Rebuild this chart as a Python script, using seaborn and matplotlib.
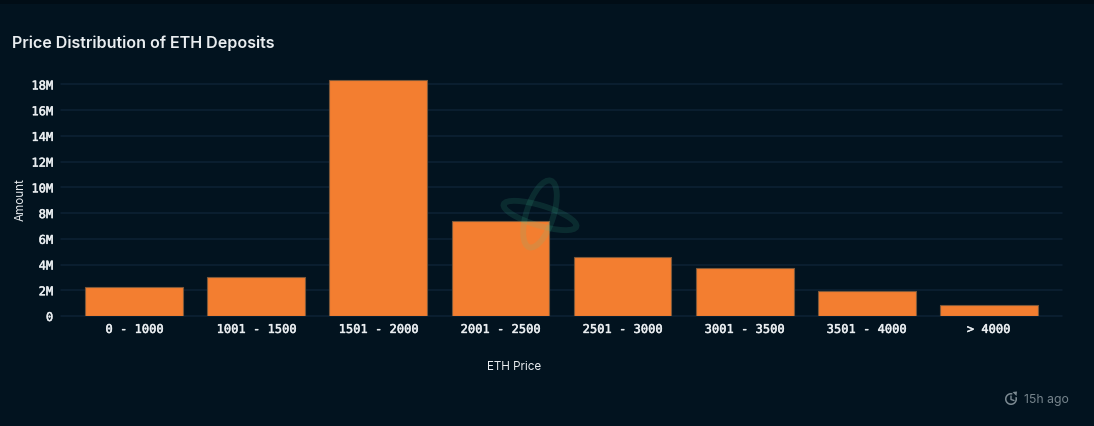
"""
Price distribution of ETH deposits, dark dashboard style bar chart.
"""

import matplotlib.patheffects as pe
import matplotlib.pyplot as plt
import pandas as pd
import seaborn as sns
from matplotlib.patches import Arc, Ellipse, Polygon, Rectangle

# ---------------------------------------------------------------------------
# Data
# ---------------------------------------------------------------------------
price_bins = ["0 - 1000", "1001 - 1500", "1501 - 2000", "2001 - 2500",
              "2501 - 3000", "3001 - 3500", "3501 - 4000", "> 4000"]
amounts = [2.25e6, 3.03e6, 18.35e6, 7.42e6, 4.55e6, 3.77e6, 1.98e6, 0.82e6]
y_ticks = [0, 2e6, 4e6, 6e6, 8e6, 10e6, 12e6, 14e6, 16e6, 18e6]
y_tick_labels = ["0", "2M", "4M", "6M", "8M", "10M", "12M", "14M", "16M", "18M"]

# ---------------------------------------------------------------------------
# Style
# ---------------------------------------------------------------------------
W, H = 1094, 427
BG = "#02131f"
ORANGE = "#f37e30"
GRID = "#0d2235"
TEXT = "#e9edf0"

sns.set_theme(style="dark")
plt.rcParams["font.family"] = ["Inter", "DejaVu Sans"]

df = pd.DataFrame({"bin": price_bins, "amount": amounts})

fig = plt.figure(figsize=(W / 100, H / 100), dpi=100, facecolor=BG)
# plot box in pixels: x 61.5-1061.5, y 78-317
ax = fig.add_axes([61.5 / W, (H - 317) / H, 1000 / W, 239 / H], facecolor=BG)

sns.barplot(data=df, x="bin", y="amount", color=ORANGE, saturation=1,
            width=0.803, edgecolor="#7d5738", linewidth=0.8, zorder=3, ax=ax)

ax.set_xlim(-0.598, 7.598)
ax.set_ylim(0, 18.58e6)
ax.set_yticks(y_ticks)
ax.set_yticklabels(y_tick_labels)
ax.grid(axis="y", color=GRID, linewidth=1.1, zorder=0)
ax.grid(axis="x", visible=False)
ax.set_axisbelow(True)
for spine in ax.spines.values():
    spine.set_visible(False)
for tick in ax.get_yaxis().get_major_ticks():
    tick.gridline.set_clip_on(False)
ax.tick_params(axis="both", length=0, colors=TEXT, labelsize=8.7)
ax.tick_params(axis="x", pad=5)
ax.tick_params(axis="y", pad=6)
for lab in ax.get_xticklabels() + ax.get_yticklabels():
    lab.set_family("DejaVu Sans Mono")
    lab.set_path_effects([pe.withStroke(linewidth=0.35, foreground=TEXT)])
ax.set_xlabel("")
ax.set_ylabel("")

# ---------------------------------------------------------------------------
# Overlay in pixel coordinates: title, labels, watermark, footer
# ---------------------------------------------------------------------------
ov = fig.add_axes([0, 0, 1, 1], facecolor="none")
ov.set_xlim(0, W)
ov.set_ylim(H, 0)
ov.axis("off")

ov.add_patch(Rectangle((0, 0), W, 5, facecolor="#010d16", edgecolor="none"))

ov.text(12, 43, "Price Distribution of ETH Deposits", color=TEXT,
        fontsize=11.6, fontweight="semibold", va="center", ha="left")
ov.text(20.5, 200, "Amount", color=TEXT, fontsize=8.4, rotation=90,
        va="center", ha="center")
ov.text(514, 367.5, "ETH Price", color=TEXT, fontsize=8.4,
        va="center", ha="center")

# atom-like watermark
for xy, w, h, ang in [((540, 215), 70, 27, -72), ((540, 216.5), 76, 20, 17)]:
    ov.add_patch(Ellipse(xy, w, h, angle=ang, facecolor="none",
                         edgecolor="#46d2a0", alpha=0.13, linewidth=4.2))

# clock icon and age
ov.add_patch(Arc((1011, 400), 10.5, 10.5, theta1=-20, theta2=285,
                 color="#7c8a92", linewidth=1.1))
ov.add_patch(Polygon([[1012.5, 393], [1017, 392.5], [1016.5, 397]],
                     closed=True, facecolor="#7c8a92", edgecolor="none"))
ov.plot([1011, 1011, 1014], [397, 400.5, 401.5], color="#7c8a92", linewidth=1)
ov.text(1023.5, 400, "15h ago", color="#76848c", fontsize=8.8,
        va="center", ha="left")

fig.savefig("out.png", dpi=100, facecolor=BG)
